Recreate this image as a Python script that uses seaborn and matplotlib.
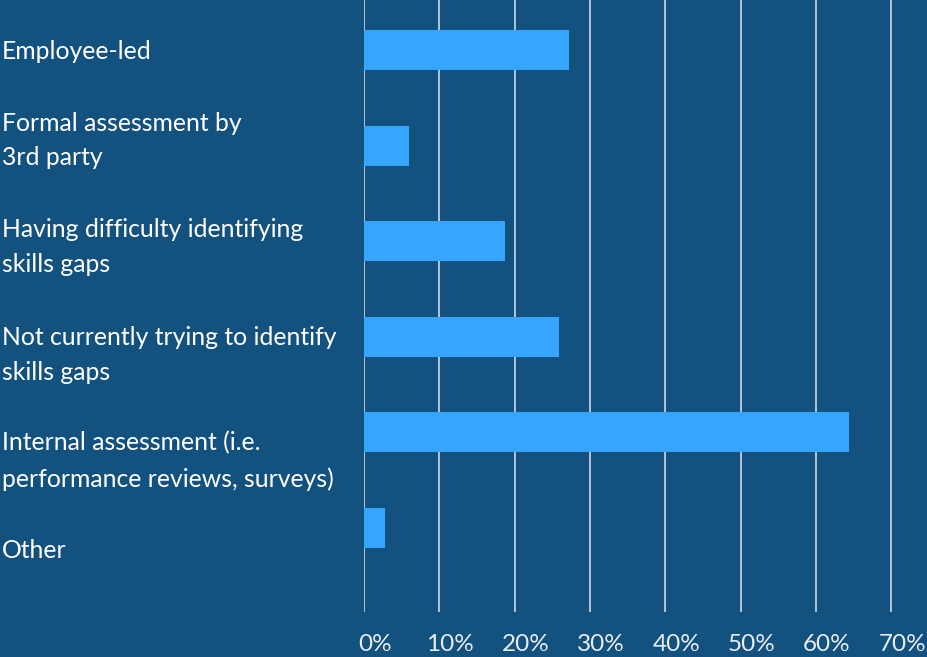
import matplotlib
matplotlib.use("Agg")
import matplotlib.pyplot as plt
import matplotlib.transforms as mtransforms
import seaborn as sns
import pandas as pd

categories = [
    "Employee-led",
    "Formal assessment by\n3rd party",
    "Having difficulty identifying\nskills gaps",
    "Not currently trying to identify\nskills gaps",
    "Internal assessment (i.e.\nperformance reviews, surveys)",
    "Other",
]
values = [27.2, 6.0, 18.7, 25.9, 64.4, 2.8]
x_ticks = [0, 10, 20, 30, 40, 50, 60, 70]
x_tick_labels = ["0%", "10%", "20%", "30%", "40%", "50%", "60%", "70%"]

# vertical placement of the category labels (layout, in category units)
label_pos = [0.0, 0.865, 1.98, 3.105, 4.215, 5.21]

BG = "#13517f"
BAR = "#36a5ff"

sns.set_theme(style="white")
plt.rcParams["font.family"] = ["Lato", "DejaVu Sans"]

df = pd.DataFrame({"category": categories, "value": values})

fig = plt.figure(figsize=(9.28, 6.57), dpi=100, facecolor=BG)
ax = fig.add_axes([364 / 928, 1 - 612 / 657, 1 - 364 / 928, 612 / 657])
ax.set_facecolor(BG)

sns.barplot(data=df, x="value", y="category", orient="h", color=BAR,
            width=0.418, saturation=1, linewidth=0, edgecolor=BAR,
            ax=ax, zorder=3)

ax.set_xlim(0, 74.9)
ax.set_ylim(5.879, -0.523)
ax.set_xticks(x_ticks)
ax.set_xticklabels(x_tick_labels)
ax.set_yticks(label_pos)
ax.set_yticklabels(categories)
ax.set_xlabel("")
ax.set_ylabel("")

for s in ax.spines.values():
    s.set_visible(False)

ax.grid(axis="x", color="white", linewidth=1.1, alpha=0.85, zorder=0)
ax.grid(axis="y", visible=False)
ax.set_axisbelow(True)

ax.tick_params(axis="x", length=0, pad=16, labelsize=17.5, labelcolor="#e8eef4")
ax.tick_params(axis="y", length=0, pad=(364 - 2) / 100 * 72, labelsize=17.8,
               labelcolor="white")

offset = mtransforms.ScaledTranslation(11 / 100, 0, fig.dpi_scale_trans)
for lab in ax.get_xticklabels():
    lab.set_transform(lab.get_transform() + offset)

for lab in ax.get_yticklabels():
    lab.set_horizontalalignment("left")
    lab.set_linespacing(1.62)

fig.savefig("out.png", dpi=100, facecolor=BG)
